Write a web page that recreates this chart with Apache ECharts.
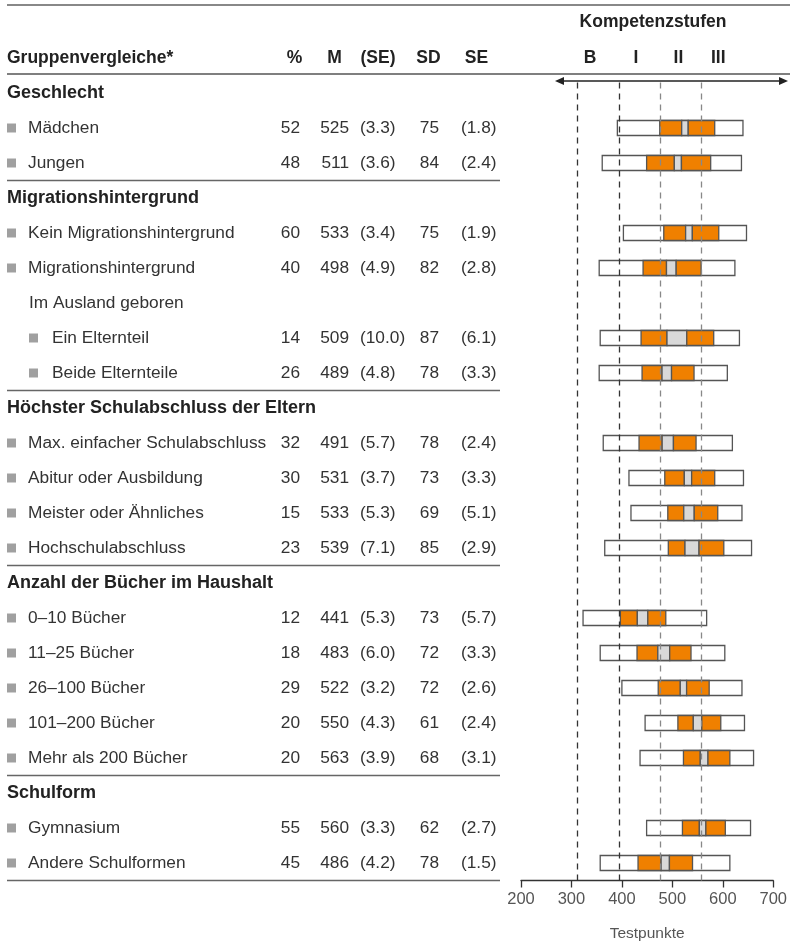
<!DOCTYPE html>
<html>
<head>
<meta charset="utf-8">
<script src="https://cdn.jsdelivr.net/npm/echarts@6/dist/echarts.min.js"></script>
<style>
  html, body { margin: 0; padding: 0; background: #fff; }
  #chart { width: 790px; height: 950px; }
</style>
</head>
<body>
<div id="chart"></div>
<script>
// Table rows: 'h' = section header, 'g' = group row, 's' = sub heading, 'g2' = indented group row
const rowLabels = ['Geschlecht', 'Mädchen', 'Jungen',
  'Migrationshintergrund', 'Kein Migrationshintergrund', 'Migrationshintergrund',
  'Im Ausland geboren', 'Ein Elternteil', 'Beide Elternteile',
  'Höchster Schulabschluss der Eltern', 'Max. einfacher Schulabschluss', 'Abitur oder Ausbildung',
  'Meister oder Ähnliches', 'Hochschulabschluss',
  'Anzahl der Bücher im Haushalt', '0–10 Bücher', '11–25 Bücher', '26–100 Bücher',
  '101–200 Bücher', 'Mehr als 200 Bücher',
  'Schulform', 'Gymnasium', 'Andere Schulformen'];
const rowKinds = ['h', 'g', 'g', 'h', 'g', 'g', 's', 'g2', 'g2', 'h', 'g', 'g', 'g', 'g',
  'h', 'g', 'g', 'g', 'g', 'g', 'h', 'g', 'g'];

// Statistics per row (null for heading rows)
const pct    = [null, 52, 48, null, 60, 40, null, 14, 26, null, 32, 30, 15, 23, null, 12, 18, 29, 20, 20, null, 55, 45];
const mean   = [null, 525, 511, null, 533, 498, null, 509, 489, null, 491, 531, 533, 539, null, 441, 483, 522, 550, 563, null, 560, 486];
const seMean = [null, 3.3, 3.6, null, 3.4, 4.9, null, 10.0, 4.8, null, 5.7, 3.7, 5.3, 7.1, null, 5.3, 6.0, 3.2, 4.3, 3.9, null, 3.3, 4.2];
const sd     = [null, 75, 84, null, 75, 82, null, 87, 78, null, 78, 73, 69, 85, null, 73, 72, 72, 61, 68, null, 62, 78];
const seSd   = [null, 1.8, 2.4, null, 1.9, 2.8, null, 6.1, 3.3, null, 2.4, 3.3, 5.1, 2.9, null, 5.7, 3.3, 2.6, 2.4, 3.1, null, 2.7, 1.5];

// Percentiles of the score distribution (5th, 25th, 75th, 95th)
const p05 = [null, 391, 361, null, 403, 355, null, 357, 355, null, 363, 414, 418, 366, null, 323, 357, 400, 446, 436, null, 449, 357];
const p25 = [null, 475, 449, null, 483, 442, null, 438, 440, null, 434, 485, 491, 492, null, 397, 430, 472, 511, 522, null, 520, 432];
const p75 = [null, 584, 576, null, 592, 557, null, 582, 543, null, 547, 584, 590, 602, null, 487, 537, 573, 596, 614, null, 605, 540];
const p95 = [null, 640, 637, null, 647, 624, null, 633, 609, null, 619, 641, 638, 657, null, 568, 604, 638, 643, 661, null, 655, 614];

// Competence level thresholds and their labels
const levelCuts   = [312, 394, 476, 558];
const levelLabels = ['B', 'I', 'II', 'III'];
const levelLabelAt = [337, 428, 512, 591];

// Rows after which a section rule is drawn
const sectionEnds = [2, 8, 13, 19, 22];

const xTicks = { min: 200, max: 700, interval: 100 };

const ORANGE = '#F08000';
const CI_GREY = '#D9D9D9';
const EDGE = '#555555';
const TEXT = '#333333';
const FONT = '"Liberation Sans", Arial, Helvetica, sans-serif';

const boxData = [];
rowLabels.forEach((_, i) => {
  if (p05[i] != null) boxData.push([i, p05[i], p25[i], p75[i], p95[i], mean[i], seMean[i]]);
});

const chart = echarts.init(document.getElementById('chart'), null, { renderer: 'canvas' });

chart.setOption({
  animation: false,
  backgroundColor: '#fff',
  grid: { left: 521, right: 16, top: 82.5, bottom: 69.5, containLabel: false },
  xAxis: {
    type: 'value', position: 'bottom', min: xTicks.min, max: xTicks.max, interval: xTicks.interval,
    axisLine: { show: true, onZero: false, lineStyle: { color: '#333', width: 1.3 } },
    axisTick: { show: true, length: 7, lineStyle: { color: '#333', width: 1.3 } },
    splitLine: { show: false },
    axisLabel: { fontSize: 16.5, color: '#555', fontFamily: FONT, margin: 10 },
    name: 'Testpunkte', nameLocation: 'middle', nameGap: 45,
    nameTextStyle: { fontSize: 15.5, color: '#555', fontFamily: FONT }
  },
  yAxis: { type: 'value', inverse: true, min: -0.3, max: 22.5, show: false },
  series: [
    {
      type: 'line', data: [], z: 1, silent: true,
      markLine: {
        silent: true, symbol: 'none', animation: false,
        label: { show: false },
        data: levelCuts.map((v, k) => ({
          xAxis: v,
          lineStyle: { type: [6, 5], width: 1.3, color: k < 2 ? '#333' : '#888' }
        }))
      }
    },
    {
      type: 'custom', z: 3, silent: true, clip: false,
      data: boxData,
      encode: { x: [1, 2, 3, 4], y: 0 },
      renderItem(params, api) {
        const i = api.value(0);
        const m = api.value(5), se = api.value(6);
        const lo = m - 1.96 * se, hi = m + 1.96 * se;
        const yc = api.coord([api.value(1), i])[1];
        const h = 15;
        const X = v => api.coord([v, i])[0];
        const rect = (a, b, fill) => ({
          type: 'rect',
          shape: { x: X(a), y: yc - h / 2, width: X(b) - X(a), height: h },
          style: { fill, stroke: EDGE, lineWidth: 1.3 }
        });
        return {
          type: 'group',
          children: [
            rect(api.value(1), api.value(4), '#fff'),
            rect(api.value(2), lo, ORANGE),
            rect(lo, hi, CI_GREY),
            rect(hi, api.value(3), ORANGE)
          ]
        };
      }
    }
  ]
});

// Table, header and decoration drawn as graphic elements aligned to the row scale
const rowY = i => chart.convertToPixel({ yAxisIndex: 0 }, i);
const colX = v => chart.convertToPixel({ xAxisIndex: 0 }, v);

const g = [];
const txt = (text, x, y, opts = {}) => g.push({
  type: 'text', x, y, silent: true,
  style: Object.assign({
    text, fill: TEXT, fontSize: 17.3, fontFamily: FONT,
    align: 'left', verticalAlign: 'middle'
  }, opts)
});
const hline = (x1, x2, y, color, w) => g.push({
  type: 'line', silent: true,
  shape: { x1, y1: y, x2, y2: y },
  style: { stroke: color, lineWidth: w }
});

// top rules
hline(7, 790, 5, '#888', 2);
hline(7, 790, 74, '#555', 1.5);

// column headings
const HEAD = { fontWeight: 'bold', fill: '#222', fontSize: 17.5 };
const SECTION = { fontWeight: 'bold', fill: '#222', fontSize: 18 };
txt('Gruppenvergleiche*', 7, 58, HEAD);
txt('%', 294.5, 58, Object.assign({ align: 'center' }, HEAD));
txt('M', 334.5, 58, Object.assign({ align: 'center' }, HEAD));
txt('(SE)', 378, 58, Object.assign({ align: 'center' }, HEAD));
txt('SD', 428.5, 58, Object.assign({ align: 'center' }, HEAD));
txt('SE', 476.5, 58, Object.assign({ align: 'center' }, HEAD));

// competence level heading
txt('Kompetenzstufen', 653, 22, Object.assign({ align: 'center' }, HEAD));
levelLabels.forEach((lab, k) => {
  txt(lab, colX(levelLabelAt[k]), 58, Object.assign({ align: 'center' }, HEAD));
});

// double-headed arrow over the scale
const ay = 81;
hline(560, 783, ay, '#222', 1.3);
g.push({ type: 'polygon', silent: true, shape: { points: [[555, ay], [564, ay - 4], [564, ay + 4]] }, style: { fill: '#222' } });
g.push({ type: 'polygon', silent: true, shape: { points: [[788, ay], [779, ay - 4], [779, ay + 4]] }, style: { fill: '#222' } });

// table rows
rowLabels.forEach((lab, i) => {
  const y = rowY(i);
  const kind = rowKinds[i];
  if (kind === 'h') {
    txt(lab, 7, y, SECTION);
  } else if (kind === 's') {
    txt(lab, 29, y);
  } else {
    const sx = kind === 'g' ? 7 : 29;
    const tx = kind === 'g' ? 28 : 52;
    g.push({ type: 'rect', silent: true, shape: { x: sx, y: y - 4.5, width: 9, height: 9 }, style: { fill: '#A0A0A0' } });
    txt(lab, tx, y);
    txt(String(pct[i]), 300, y, { align: 'right' });
    txt(String(mean[i]), 349, y, { align: 'right' });
    txt('(' + seMean[i].toFixed(1) + ')', 360, y, { align: 'left' });
    txt(String(sd[i]), 439, y, { align: 'right' });
    txt('(' + seSd[i].toFixed(1) + ')', 461, y, { align: 'left' });
  }
});

// section rules
sectionEnds.forEach(i => {
  const y = (rowY(i) + rowY(i + 1)) / 2;
  hline(7, 500, y, '#666', 1.5);
});

chart.setOption({ graphic: { elements: g } });
</script>
</body>
</html>
